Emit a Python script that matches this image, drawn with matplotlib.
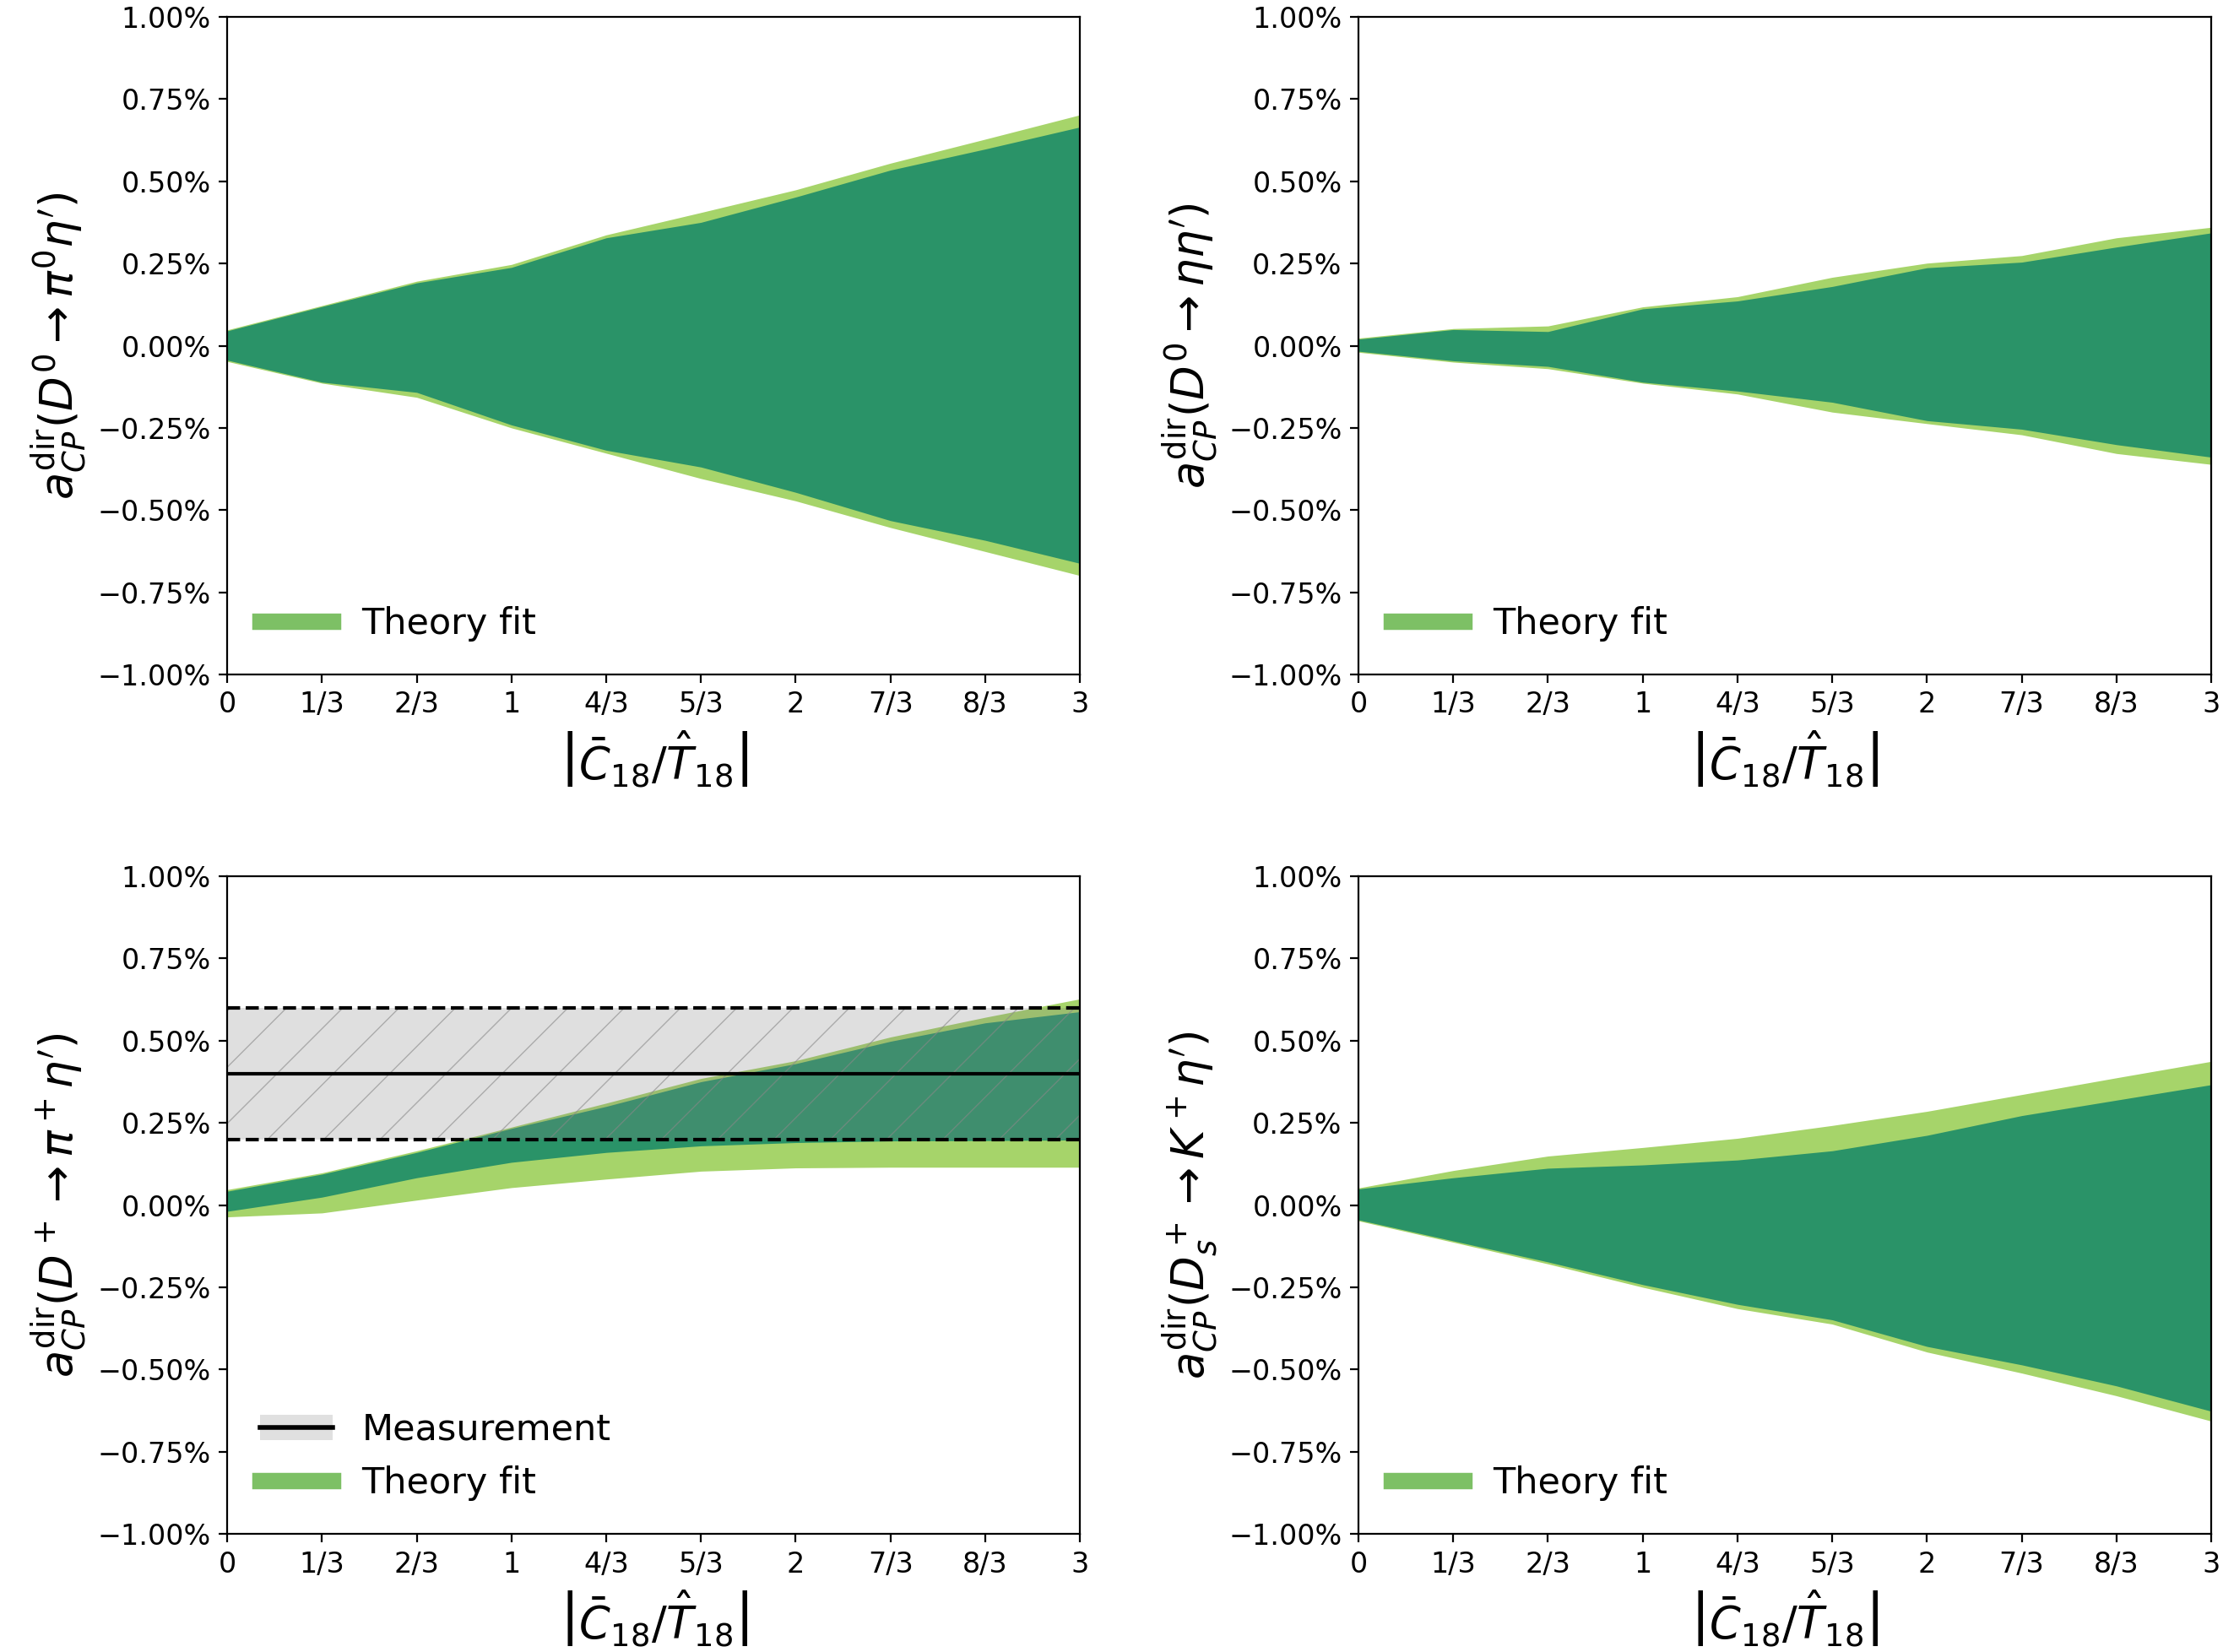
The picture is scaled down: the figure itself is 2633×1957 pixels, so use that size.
import matplotlib
matplotlib.use("Agg")
import matplotlib.pyplot as plt
from matplotlib.ticker import PercentFormatter
from matplotlib.lines import Line2D
from matplotlib.patches import Patch

plt.rcParams['hatch.linewidth'] = 0.5

# x grid: |C18/T18| from 0 to 3 in steps of 1/3
x = [0, 1/3, 2/3, 1, 4/3, 5/3, 2, 7/3, 8/3, 3]
xtick_labels = ['0', '1/3', '2/3', '1', '4/3', '5/3', '2', '7/3', '8/3', '3']

# values in percent; outer = light band, inner = dark band
pi0_outer_hi = [0.048, 0.122, 0.196, 0.247, 0.337, 0.405, 0.474, 0.555, 0.628, 0.702]
pi0_outer_lo = [-0.048, -0.114, -0.157, -0.250, -0.327, -0.404, -0.472, -0.553, -0.626, -0.699]
pi0_inner_hi = [0.045, 0.119, 0.191, 0.238, 0.328, 0.375, 0.452, 0.534, 0.598, 0.665]
pi0_inner_lo = [-0.044, -0.111, -0.142, -0.241, -0.318, -0.369, -0.446, -0.532, -0.592, -0.662]

eta_outer_hi = [0.023, 0.052, 0.060, 0.118, 0.149, 0.208, 0.251, 0.274, 0.328, 0.360]
eta_outer_lo = [-0.020, -0.050, -0.070, -0.114, -0.147, -0.202, -0.237, -0.271, -0.328, -0.361]
eta_inner_hi = [0.020, 0.049, 0.043, 0.112, 0.136, 0.180, 0.237, 0.254, 0.300, 0.343]
eta_inner_lo = [-0.017, -0.046, -0.063, -0.111, -0.138, -0.172, -0.228, -0.254, -0.301, -0.339]

pip_outer_hi = [0.047, 0.098, 0.165, 0.237, 0.310, 0.385, 0.439, 0.511, 0.571, 0.627]
pip_outer_lo = [-0.036, -0.024, 0.015, 0.053, 0.079, 0.103, 0.113, 0.115, 0.115, 0.115]
pip_inner_hi = [0.042, 0.094, 0.160, 0.233, 0.300, 0.375, 0.430, 0.498, 0.554, 0.588]
pip_inner_lo = [-0.019, 0.024, 0.083, 0.130, 0.160, 0.180, 0.190, 0.195, 0.196, 0.198]

kp_outer_hi = [0.052, 0.105, 0.149, 0.175, 0.203, 0.242, 0.285, 0.336, 0.387, 0.437]
kp_outer_lo = [-0.048, -0.113, -0.179, -0.250, -0.315, -0.362, -0.447, -0.511, -0.580, -0.657]
kp_inner_hi = [0.049, 0.083, 0.112, 0.122, 0.137, 0.165, 0.212, 0.272, 0.319, 0.366]
kp_inner_lo = [-0.045, -0.109, -0.173, -0.242, -0.302, -0.349, -0.430, -0.486, -0.550, -0.627]

# measured a_CP(D+ -> pi+ eta') in percent
meas_central = 0.40
meas_lo = 0.20
meas_hi = 0.60

ylabels = [r'$a_{CP}^{\rm dir}(D^0\to\pi^0\eta^{\prime})$',
           r'$a_{CP}^{\rm dir}(D^0\to\eta\eta^{\prime})$',
           r'$a_{CP}^{\rm dir}(D^+\to\pi^+\eta^{\prime})$',
           r'$a_{CP}^{\rm dir}(D_s^+\to K^+\eta^{\prime})$']
xlabel = r'$\left|\bar{C}_{18}/\hat{T}_{18}\right|$'

dark = '#2a9368'
light = '#a6d46a'
legend_green = '#7dc065'

fig = plt.figure(figsize=(13.165, 9.785), dpi=200)
positions = [[0.1022, 0.5917, 0.3836, 0.3981],
             [0.6111, 0.5917, 0.3836, 0.3981],
             [0.1022, 0.0715, 0.3836, 0.3981],
             [0.6111, 0.0715, 0.3836, 0.3981]]

bands = [(pi0_outer_lo, pi0_outer_hi, pi0_inner_lo, pi0_inner_hi),
         (eta_outer_lo, eta_outer_hi, eta_inner_lo, eta_inner_hi),
         (pip_outer_lo, pip_outer_hi, pip_inner_lo, pip_inner_hi),
         (kp_outer_lo, kp_outer_hi, kp_inner_lo, kp_inner_hi)]

for i in range(4):
    ax = fig.add_axes(positions[i])
    olo, ohi, ilo, ihi = bands[i]
    ax.fill_between(x, olo, ohi, color=light, linewidth=0)
    ax.fill_between(x, ilo, ihi, color=dark, linewidth=0)

    handles = []
    labels = []
    if i == 2:
        ax.fill_between([x[0], x[-1]], meas_lo, meas_hi, facecolor='gray', alpha=0.25, linewidth=0)
        ax.fill_between([x[0], x[-1]], meas_lo, meas_hi, facecolor='none', edgecolor='#888888',
                        hatch='/', linewidth=0, alpha=0.6)
        ax.axhline(meas_central, color='black', lw=1.5)
        ax.axhline(meas_lo, color='black', lw=1.5, ls='--')
        ax.axhline(meas_hi, color='black', lw=1.5, ls='--')
        handles.append((Patch(facecolor='#e0e0e0', edgecolor='none'), Line2D([], [], color='black', lw=2)))
        labels.append('Measurement')
    handles.append(Line2D([], [], color=legend_green, lw=7))
    labels.append('Theory fit')
    ax.legend(handles, labels, loc='lower left', frameon=False, fontsize=15.5)

    ax.set_xlim(0, 3)
    ax.set_ylim(-1, 1)
    ax.set_xticks(x)
    ax.set_xticklabels(xtick_labels)
    ax.set_yticks([-1, -0.75, -0.5, -0.25, 0, 0.25, 0.5, 0.75, 1])
    ax.yaxis.set_major_formatter(PercentFormatter(xmax=100, decimals=2))
    ax.tick_params(labelsize=12)
    ax.set_xlabel(xlabel, fontsize=19)
    ax.set_ylabel(ylabels[i], fontsize=19)

fig.savefig('out.png', dpi=200)
